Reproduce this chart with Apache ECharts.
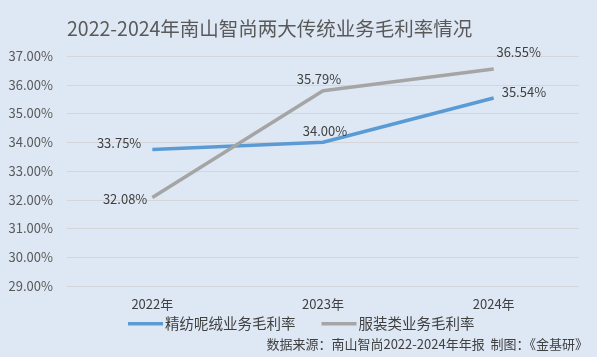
<!DOCTYPE html>
<html><head><meta charset="utf-8">
<script src="https://cdn.jsdelivr.net/npm/echarts@6/dist/echarts.min.js"></script>
<style>html,body{margin:0;padding:0;background:#dee8f4;}#c{width:597px;height:357px;}</style>
</head><body><div id="c"></div>
<script>
const categories = ['2022年', '2023年', '2024年'];
const woolValues = [33.75, 34.00, 35.54];
const apparelValues = [32.08, 35.79, 36.55];
const seriesNames = ['精纺呢绒业务毛利率', '服装类业务毛利率'];
const titleText = '2022-2024年南山智尚两大传统业务毛利率情况';
const sourceText = '数据来源：南山智尚2022-2024年年报  制图：《金基研》';

const font = '"Noto Sans CJK SC", "Open Sans", sans-serif';
const woolLabels = [
  { position: 'left', offset: [-6, -6] },
  { position: 'top', offset: [2, 0] },
  { position: 'right', offset: [3, -6] }
];
const apparelLabels = [
  { position: 'left', offset: [0, 2] },
  { position: 'top', offset: [-4, 0] },
  { position: 'top', offset: [25, -5] }
];
const chart = echarts.init(document.getElementById('c'));
const lbl = { show: true, fontSize: 13, color: '#404040', fontFamily: font,
  formatter: p => Number(p.value).toFixed(2) + '%' };
chart.setOption({
  backgroundColor: '#dee8f4',
  textStyle: { fontFamily: font },
  title: {
    text: titleText, left: 62, top: 14,
    textStyle: { fontSize: 19.5, fontWeight: 'normal', color: '#595959', fontFamily: font }
  },
  graphic: [{
    type: 'text', right: 9, top: 338,
    style: { text: sourceText, fill: '#404040', font: '13px ' + font }
  }],
  legend: {
    bottom: 21, left: 123, itemWidth: 35, itemHeight: 3.5, itemGap: 26,
    icon: 'rect',
    textStyle: { fontSize: 14.5, color: '#404040', fontFamily: font, padding: [0, 0, 0, -3] },
    data: seriesNames
  },
  grid: { left: 67, right: 18, top: 56, bottom: 71 },
  xAxis: {
    type: 'category', data: categories, boundaryGap: true,
    axisLine: { show: false }, axisTick: { show: false },
    axisLabel: { fontSize: 13, color: '#404040', margin: 12, fontFamily: font }
  },
  yAxis: {
    type: 'value', min: 29, max: 37, interval: 1,
    axisLine: { show: false }, axisTick: { show: false },
    splitLine: { lineStyle: { color: '#d4d6d9', width: 1 } },
    axisLabel: { fontSize: 13, color: '#595959', margin: 14, fontFamily: font,
      formatter: v => v.toFixed(2) + '%' }
  },
  series: [
    {
      name: seriesNames[0], type: 'line',
      symbol: 'circle', symbolSize: 0, showSymbol: true,
      lineStyle: { width: 3.5, color: '#5b9bd5' }, itemStyle: { color: '#5b9bd5' },
      label: lbl,
      data: woolValues.map((v, i) => ({ value: v, label: woolLabels[i] }))
    },
    {
      name: seriesNames[1], type: 'line',
      symbol: 'circle', symbolSize: 0, showSymbol: true,
      lineStyle: { width: 3.5, color: '#a5a5a5' }, itemStyle: { color: '#a5a5a5' },
      label: lbl,
      data: apparelValues.map((v, i) => ({ value: v, label: apparelLabels[i] }))
    }
  ]
});
</script></body></html>
